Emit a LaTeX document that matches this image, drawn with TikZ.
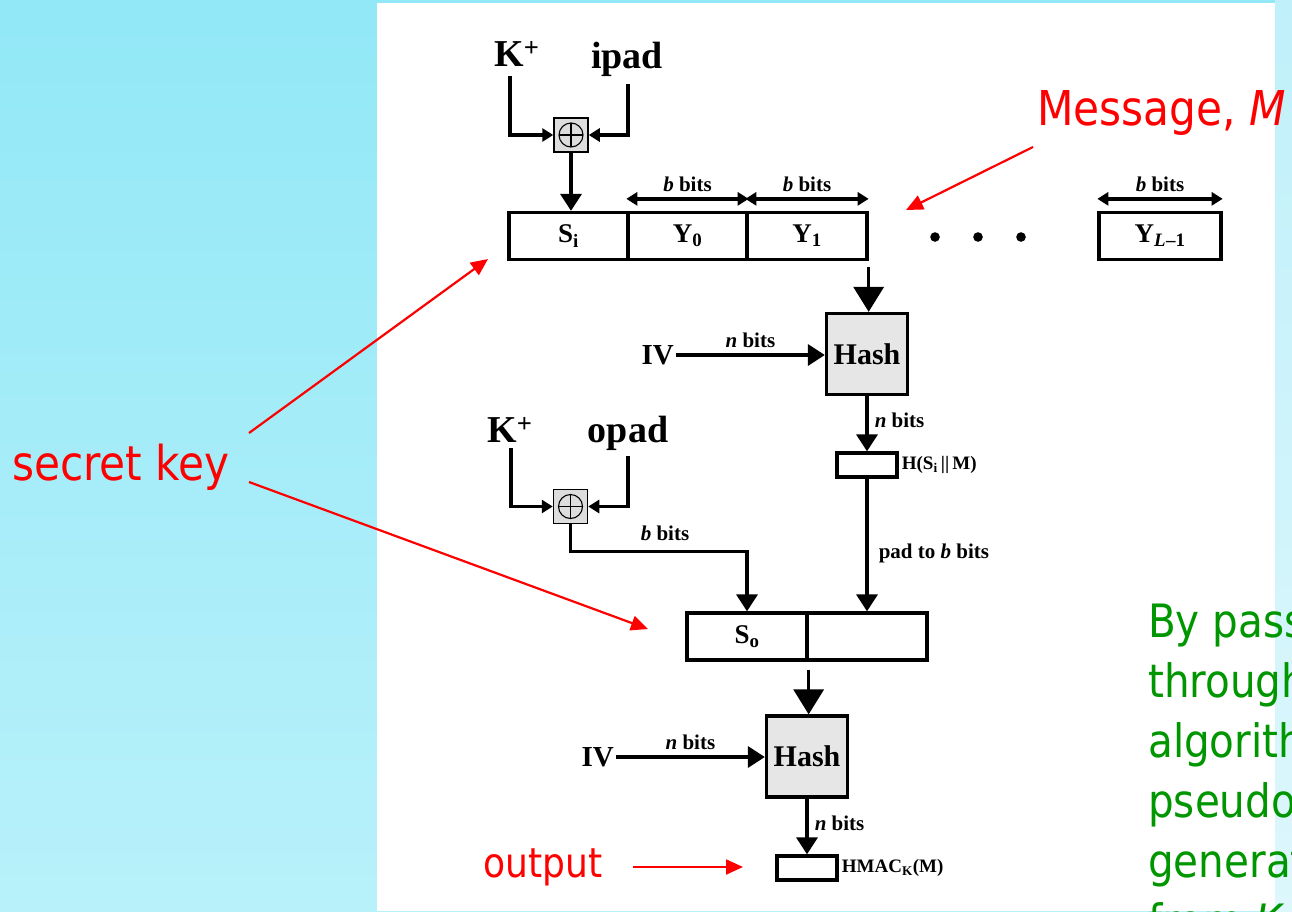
\documentclass[tikz,border=0pt]{standalone}
\usepackage{fontspec}
\setmainfont{Liberation Serif}
\newfontfamily\slidefont[FakeStretch=0.88]{DejaVu Sans}
\usetikzlibrary{arrows.meta}
\definecolor{bgtop}{HTML}{92E8F7}
\definecolor{bgbot}{HTML}{B8F1FA}
\definecolor{rtop}{HTML}{C0F0FA}
\definecolor{rbot}{HTML}{DDF7FC}
\definecolor{grn}{HTML}{009600}
\definecolor{hashfill}{HTML}{E6E6E6}
\definecolor{xorfill}{HTML}{DDDDDD}
\begin{document}
\begin{tikzpicture}[x=1pt,y=-1pt,
  ln/.style={line width=3.5pt},
  cell/.style={draw, line width=3.3pt, minimum height=47pt, inner sep=0pt,
    font=\fontsize{27}{29}\selectfont\bfseries},
  smallbox/.style={draw, line width=3.3pt, minimum height=24pt, minimum width=60pt, inner sep=0pt},
  hashbox/.style={draw, line width=3.3pt, fill=hashfill, minimum size=81pt, inner sep=0pt,
    font=\fontsize{30}{32}\selectfont\bfseries},
  xorbox/.style={draw, line width=1.5pt, fill=xorfill, minimum size=34pt, inner sep=0pt,
    path picture={
      \draw[line width=1.1pt] (path picture bounding box.center) circle (12pt);
      \draw[line width=1.1pt] ([xshift=-12pt]path picture bounding box.center) -- ([xshift=12pt]path picture bounding box.center);
      \draw[line width=1.1pt] ([yshift=-12pt]path picture bounding box.center) -- ([yshift=12pt]path picture bounding box.center);}},
  biglbl/.style={font=\fontsize{38}{40}\selectfont\bfseries, inner sep=0pt},
  midlbl/.style={font=\fontsize{29}{31}\selectfont\bfseries, inner sep=2pt},
  smlbl/.style={font=\fontsize{21}{23}\selectfont\bfseries, inner sep=0pt},
  tnlbl/.style={font=\fontsize{19}{21}\selectfont\bfseries, inner sep=0pt},
  arrs/.style={ln, -{Triangle[length=11pt,width=13pt]}},
  arr/.style={ln, -{Triangle[length=17pt,width=21pt]}},
  arrbig/.style={ln, -{Triangle[length=25pt,width=30pt]}},
  dbl/.style={ln, {Triangle[length=11pt,width=13pt]}-{Triangle[length=11pt,width=13pt]}},
  redarr/.style={red, line width=2.2pt, -{Triangle[length=17pt,width=15pt]}},
  redtxt/.style={red, font=\slidefont\fontsize{48}{52}\selectfont, inner sep=0pt},
  grntxt/.style={grn, font=\slidefont\fontsize{46}{50}\selectfont, inner sep=0pt, anchor=base west}
]
\useasboundingbox (0,0) rectangle (1292,911);
% background
\shade[top color=bgtop, bottom color=bgbot] (0,0) rectangle (1292,911);
\shade[top color=rtop, bottom color=rbot] (1275,0) rectangle (1292,911);
\fill[white] (377,3) rectangle (1275,911);

% ---- inner part ----
\node[biglbl, anchor=base] (kp1) at (517,66) {K\textsuperscript{+}};
\node[biglbl, anchor=base] (ipad) at (627,68) {ipad};
\node[xorbox] (xor1) at (571,135) {};
\draw[arrs] (kp1.south) ++(-7,10) |- (xor1.west);
\draw[arrs] (ipad.south) ++(1,8) |- (xor1.east);

\node[cell, minimum width=119pt] (si) at (568.5,236) {S\textsubscript{i}};
\node[cell, minimum width=119pt] (y0) at (687.5,236) {Y\textsubscript{0}};
\node[cell, minimum width=120pt] (y1) at (807,236) {Y\textsubscript{1}};
\node[cell, minimum width=122pt] (yl) at (1160,236) {Y\textsubscript{\textit{L}\kern0.5pt–1}};
\draw[arr] (xor1.south) -- (xor1.south |- si.north);

\draw[dbl] ([yshift=12pt]y0.north west) -- node[smlbl, above=5pt] (bb1) {\textit{b} bits} ([yshift=12pt]y0.north east);
\draw[dbl] ([yshift=12pt]y1.north west) -- node[smlbl, above=5pt] (bb2) {\textit{b} bits} ([yshift=12pt]y1.north east);
\draw[dbl] ([yshift=12pt]yl.north west) -- node[smlbl, above=5pt] (bb3) {\textit{b} bits} ([yshift=12pt]yl.north east);

\foreach \i/\xx in {1/935, 2/978, 3/1021}
  \fill (\xx,237) circle (4.8pt) coordinate (dot\i);

\node[hashbox] (hash1) at (867,354) {Hash};
\draw[arrbig] ([yshift=-6pt]y1.south east) -- (y1.south east |- hash1.north);
\node[midlbl, anchor=east] (iv1) at (676,355) {IV};
\draw[arr] (iv1.east) -- node[smlbl, above=6pt] (nb1) {\textit{n} bits} (iv1.east -| hash1.west);

\node[smallbox] (h1) at (867,465) {};
\node[tnlbl, anchor=west] (h1lbl) at ([xshift=3pt]h1.east) {H(S\textsubscript{i}\,||\,M)};
\draw[arr] (hash1.south) -- node[smlbl, anchor=west, xshift=6pt, yshift=3pt] (nb2) {\textit{n} bits} (hash1.south |- h1.north);

% ---- outer part ----
\node[biglbl, anchor=base] (kp2) at (510,442) {K\textsuperscript{+}};
\node[biglbl, anchor=base] (opad) at (628,442) {opad};
\node[xorbox] (xor2) at (570.5,506.5) {};
\draw[arrs] (kp2.south) ++(1,6) |- (xor2.west);
\draw[arrs] (opad.south) ++(0,6) |- (xor2.east);

\node[cell, minimum width=120pt] (so) at (747,636.5) {S\textsubscript{o}};
\node[cell, minimum width=120pt] (sr) at (867,636.5) {};
\draw[arr] (xor2.south) |- ([yshift=60pt]so.north) -- node[pos=0, smlbl, above=9pt, xshift=-82pt] (bb4) {\textit{b} bits} (so.north);
\draw[arr] (h1.south) -- node[smlbl, anchor=west, xshift=10pt, yshift=-8pt] (pad) {pad to \textit{b} bits} (h1.south |- sr.north);

\node[hashbox] (hash2) at (807,756.5) {Hash};
\draw[arrbig] ([yshift=-8pt]so.south east) -- (so.south east |- hash2.north);
\node[midlbl, anchor=east] (iv2) at (616,757) {IV};
\draw[arr] (iv2.east) -- node[smlbl, above=6pt] (nb3) {\textit{n} bits} (iv2.east -| hash2.west);

\node[smallbox] (h2) at (807,868) {};
\node[tnlbl, anchor=west] (h2lbl) at ([xshift=3pt]h2.east) {HMAC\textsubscript{K}(M)};
\draw[arr] (hash2.south) -- node[smlbl, anchor=west, xshift=6pt, yshift=3pt] (nb4) {\textit{n} bits} (hash2.south |- h2.north);

% ---- annotations ----
\node[redtxt, anchor=base west] (msg) at (1037,125) {Message, \textit{M}};
\coordinate (msgstart) at (1033,147);
\coordinate (msgtip) at (906,210);
\draw[redarr] (msgstart) -- (msgtip);

\node[redtxt, anchor=base west] (sk) at (12,480) {secret key};
\coordinate (skstart1) at (249,433);
\coordinate (skstart2) at (249,482);
\coordinate (sktip1) at (488,259);
\coordinate (sktip2) at (648,629);
\draw[redarr] (skstart1) -- (sktip1);
\draw[redarr] (skstart2) -- (sktip2);

\node[redtxt, font=\slidefont\fontsize{41}{45}\selectfont, anchor=base west] (outp) at (483,877) {output};
\coordinate (outstart) at (633,867);
\coordinate (outtip) at (743,867);
\draw[redarr] (outstart) -- (outtip);

\begin{scope}
\clip (0,0) rectangle (1292,911);
\node[grntxt] (g1) at (1148,637) {By passing S\textsubscript{i} and S\textsubscript{o}};
\node[grntxt] (g2) at (1148,697) {through the hash};
\node[grntxt] (g3) at (1148,757) {algorithm, we have};
\node[grntxt] (g4) at (1148,817) {pseudorandomly};
\node[grntxt] (g5) at (1148,877) {generated two keys};
\node[grntxt] (g6) at (1148,937) {from \textit{K}.};
\end{scope}
\end{tikzpicture}
\end{document}
